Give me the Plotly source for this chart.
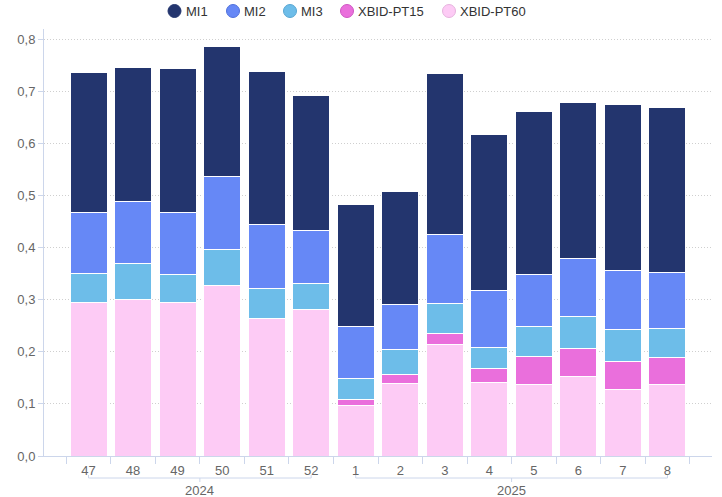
import plotly.graph_objects as go

weeks = ["47", "48", "49", "50", "51", "52", "1", "2", "3", "4", "5", "6", "7", "8"]
years = ["2024"] * 6 + ["2025"] * 8

mi1 = [0.269, 0.259, 0.277, 0.251, 0.293, 0.259, 0.234, 0.217, 0.310, 0.300, 0.313, 0.300, 0.319, 0.317]
mi2 = [0.118, 0.119, 0.118, 0.139, 0.124, 0.102, 0.100, 0.086, 0.132, 0.108, 0.101, 0.112, 0.114, 0.108]
mi3 = [0.056, 0.068, 0.055, 0.070, 0.056, 0.049, 0.041, 0.048, 0.057, 0.040, 0.057, 0.061, 0.061, 0.055]
pt15 = [0.0, 0.0, 0.0, 0.0, 0.0, 0.0, 0.011, 0.017, 0.022, 0.028, 0.053, 0.054, 0.054, 0.051]
pt60 = [0.294, 0.301, 0.294, 0.327, 0.265, 0.282, 0.097, 0.139, 0.2135, 0.141, 0.138, 0.152, 0.127, 0.138]

series = [
    ("XBID-PT60", pt60, "#fdcbf5", "#e6b3de"),
    ("XBID-PT15", pt15, "#ea6fdc", "#cf56c2"),
    ("MI3", mi3, "#6dbde9", "#58a6d2"),
    ("MI2", mi2, "#6688f6", "#5071dc"),
    ("MI1", mi1, "#23356e", "#23356e"),
]

FONT = "Liberation Sans, Arial, sans-serif"
LC = "#ccd6eb"

W, H = 722, 497
ML, MR, MT, MB = 44, 10, 29, 41
PLOT_W = W - ML - MR

fig = go.Figure()
for name, vals, col, _ in series:
    fig.add_trace(go.Bar(
        x=weeks, y=vals, name=name,
        marker=dict(color=col, line=dict(color="white", width=1)),
        showlegend=False,
    ))

shapes = []
annotations = []

# legend (circle + label), in reference order
legend_x = [174.5, 233, 290, 347, 449]  # circle centres, px
for (name, vals, col, edge), px in zip(reversed(series), legend_x):
    xp = (px - ML) / PLOT_W
    shapes.append(dict(type="circle", xref="paper", yref="paper", xsizemode="pixel", ysizemode="pixel",
                       xanchor=xp, yanchor=1, x0=-6.5, x1=6.5, y0=18 - 6.5, y1=18 + 6.5,
                       fillcolor=col, line=dict(color=edge, width=1)))
    annotations.append(dict(x=xp, xref="paper", y=1, yref="paper", xanchor="left", yanchor="middle",
                            xshift=9, yshift=18, text=name, showarrow=False,
                            font=dict(family=FONT, size=13, color="#333333")))

# group brackets on the x axis
groups = []
for i, y in enumerate(years):
    if not groups or groups[-1][0] != y:
        groups.append([y, i, i])
    else:
        groups[-1][2] = i

for y, a, b in groups:
    mid = (a + b) / 2
    common = dict(type="line", xref="x", yref="paper", ysizemode="pixel", yanchor=0,
                  line=dict(color=LC, width=1))
    shapes.append(dict(x0=a, x1=b, y0=-22, y1=-22, **common))
    shapes.append(dict(x0=a, x1=a, y0=-22, y1=-19, **common))
    shapes.append(dict(x0=b, x1=b, y0=-22, y1=-19, **common))
    shapes.append(dict(x0=mid, x1=mid, y0=-22, y1=-26, **common))
    annotations.append(dict(x=mid, xref="x", y=0, yref="paper", yanchor="middle", yshift=-34,
                            text=y, showarrow=False, font=dict(family=FONT, size=13, color="#666666")))

fig.update_layout(
    barmode="stack",
    bargap=0.17,
    width=W, height=H,
    margin=dict(l=ML, r=MR, t=MT, b=MB, autoexpand=False),
    paper_bgcolor="white", plot_bgcolor="white",
    separators=",.",
    showlegend=False,
    font=dict(family=FONT, size=12, color="#666666"),
    xaxis=dict(
        type="category", range=[-1, 14], tickson="boundaries", ticks="outside", ticklen=7,
        tickcolor=LC, showline=True, linecolor=LC, linewidth=1, showgrid=False,
        tickfont=dict(family=FONT, size=13, color="#666666"), ticklabelstandoff=2,
    ),
    yaxis=dict(
        range=[0, 0.82], dtick=0.1, tickformat=".1f", showline=True, linecolor=LC, linewidth=1,
        ticks="outside", ticklen=5, tickcolor=LC, gridcolor="#cfcfcf", griddash="1px,2px",
        zeroline=False, tickfont=dict(family=FONT, size=13, color="#666666"),
    ),
    shapes=shapes,
    annotations=annotations,
)

fig.write_html("out.html", config={"displayModeBar": False},
               post_script="document.body.style.margin='0';")
